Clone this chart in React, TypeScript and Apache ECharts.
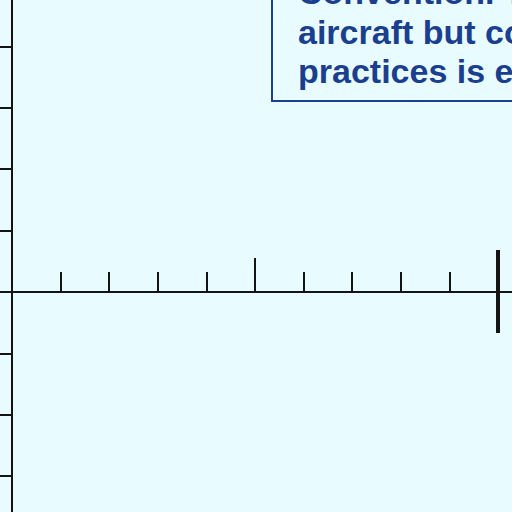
import React, { useEffect, useRef } from "react";
import * as echarts from "echarts";

// x-axis scale: units 0..11, minor ticks every 1, a larger tick at 5, big bar at 10
const xMin = 0;
const xMax = 11;
const minorInterval = 1;
const midTicks = [5];
const bigTicks = [10];
// y-axis scale
const yMin = -4;
const yMax = 5;
const yInterval = 1;
// note box lines
const noteLines = ["Convention. The", "aircraft but compliance", "practices is essential"];

const BG = "#e8fbfe";
const INK = "#141414";
const BLUE = "#1b3f8f";
const XUNIT = 48.6;
const YUNIT = 61.4;

export default function App() {
  const ref = useRef<HTMLDivElement>(null);
  useEffect(() => {
    if (!ref.current) return;
    const chart = echarts.init(ref.current, null, { renderer: "svg" });
    const baseX = {
      type: "value" as const,
      min: xMin,
      max: xMax,
      interval: minorInterval,
      position: "bottom" as const,
      splitLine: { show: false },
      axisLabel: { show: false },
    };
    chart.setOption({
      animation: false,
      backgroundColor: BG,
      grid: {
        left: 12,
        right: 512 - (12 + (xMax - xMin) * XUNIT),
        top: 292 - yMax * YUNIT,
        bottom: 512 - (292 - yMin * YUNIT),
        outerBoundsMode: "none",
        containLabel: false,
      },
      xAxis: [
        {
          ...baseX,
          axisLine: { show: true, onZero: true, onZeroAxisIndex: 0, lineStyle: { color: INK, width: 2 } },
          axisTick: { show: true, inside: true, length: 20, lineStyle: { color: INK, width: 2 } },
        },
        {
          ...baseX,
          axisLine: { show: false, onZero: true, onZeroAxisIndex: 0 },
          axisTick: { show: true, inside: true, length: 34, customValues: midTicks, lineStyle: { color: INK, width: 2 } },
        },
        {
          ...baseX,
          axisLine: { show: false, onZero: true, onZeroAxisIndex: 0 },
          axisTick: { show: true, inside: true, length: 42, customValues: bigTicks, lineStyle: { color: INK, width: 4 } },
        },
        {
          ...baseX,
          axisLine: { show: false, onZero: true, onZeroAxisIndex: 0 },
          axisTick: { show: true, inside: false, length: 41, customValues: bigTicks, lineStyle: { color: INK, width: 4 } },
        },
      ],
      yAxis: {
        type: "value",
        min: yMin,
        max: yMax,
        interval: yInterval,
        position: "left",
        axisLine: { show: true, onZero: false, lineStyle: { color: INK, width: 2 } },
        axisTick: { show: true, inside: false, length: 12, lineStyle: { color: INK, width: 2 } },
        axisLabel: { show: false },
        splitLine: { show: false },
      },
      series: [],
      graphic: [
        {
          type: "rect",
          shape: { x: 272, y: -20, width: 300, height: 121 },
          style: { fill: "transparent", stroke: BLUE, lineWidth: 2 },
          z: 10,
        },
        ...noteLines.map((t, i) => ({
          type: "text",
          x: 298,
          y: -8 + i * 39.5,
          z: 10,
          style: {
            text: t,
            fill: BLUE,
            font: "bold 34px 'Liberation Sans', Arial, sans-serif",
            verticalAlign: "middle",
            align: "left",
          },
        })),
      ],
    });
    return () => chart.dispose();
  }, []);
  return (
    <div
      ref={ref}
      style={{ position: "fixed", left: 0, top: 0, width: 512, height: 512 }}
    />
  );
}
